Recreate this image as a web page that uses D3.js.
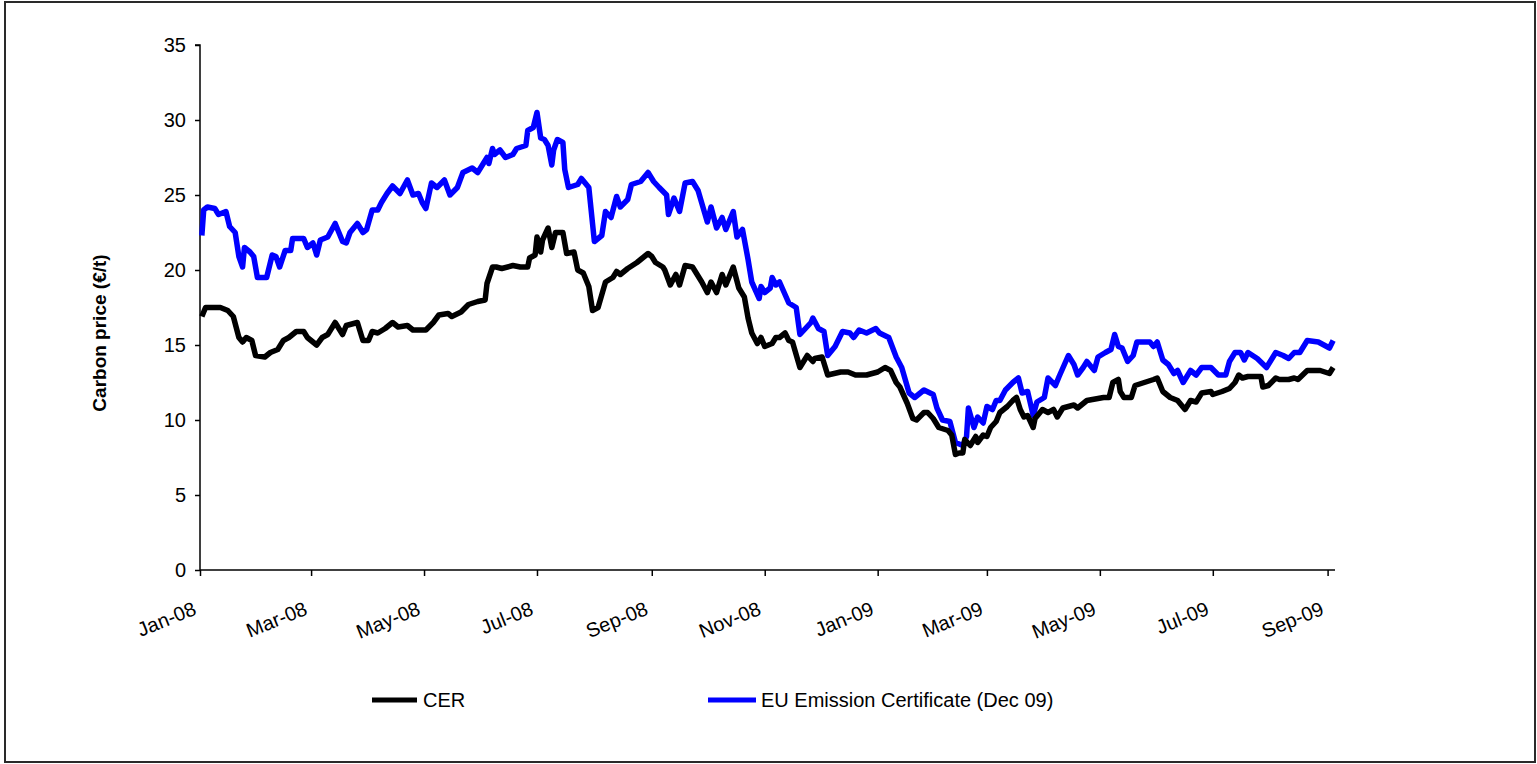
<!DOCTYPE html>
<html>
<head>
<meta charset="utf-8">
<script src="https://cdn.jsdelivr.net/npm/d3@7"></script>
<style>
  body { margin: 0; background: #ffffff; }
  svg { display: block; font-family: "Liberation Sans", Arial, sans-serif; }
</style>
</head>
<body>
<svg id="chart" width="1537" height="764"></svg>
<script>
// ---------------- DATA ----------------
const seriesNames = ["CER", "EU Emission Certificate (Dec 09)"];
const yTickValues = [0, 5, 10, 15, 20, 25, 30, 35];
const xTickLabels = ["Jan-08","Mar-08","May-08","Jul-08","Sep-08","Nov-08","Jan-09","Mar-09","May-09","Jul-09","Sep-09"];

const cerDates = [
"2008-01-02","2008-01-04","2008-01-08","2008-01-12","2008-01-16","2008-01-19","2008-01-22","2008-01-24","2008-01-26","2008-01-29",
"2008-01-31","2008-02-05","2008-02-08","2008-02-12","2008-02-15","2008-02-18","2008-02-22","2008-02-26","2008-02-28","2008-03-04",
"2008-03-07","2008-03-10","2008-03-14","2008-03-16","2008-03-18","2008-03-20","2008-03-26","2008-03-29","2008-04-01","2008-04-03",
"2008-04-06","2008-04-10","2008-04-14","2008-04-17","2008-04-22","2008-04-25","2008-05-02","2008-05-06","2008-05-09","2008-05-14",
"2008-05-16","2008-05-21","2008-05-25","2008-05-30","2008-06-03","2008-06-04","2008-06-07","2008-06-09","2008-06-12","2008-06-18",
"2008-06-22","2008-06-26","2008-06-27","2008-06-30","2008-07-01","2008-07-03","2008-07-04","2008-07-07","2008-07-09","2008-07-11",
"2008-07-15","2008-07-17","2008-07-21","2008-07-23","2008-07-26","2008-07-29","2008-07-31","2008-08-03","2008-08-07","2008-08-11",
"2008-08-13","2008-08-15","2008-08-19","2008-08-24","2008-08-27","2008-08-30","2008-09-01","2008-09-03","2008-09-07","2008-09-08",
"2008-09-11","2008-09-14","2008-09-16","2008-09-19","2008-09-23","2008-09-28","2008-10-01","2008-10-03","2008-10-06","2008-10-09",
"2008-10-11","2008-10-15","2008-10-18","2008-10-21","2008-10-23","2008-10-25","2008-10-28","2008-10-30","2008-11-01","2008-11-05",
"2008-11-07","2008-11-09","2008-11-12","2008-11-14","2008-11-16","2008-11-20","2008-11-24","2008-11-27","2008-11-28","2008-12-02",
"2008-12-05","2008-12-12","2008-12-16","2008-12-20","2008-12-26","2009-01-01","2009-01-05","2009-01-08","2009-01-11","2009-01-13",
"2009-01-17","2009-01-20","2009-01-22","2009-01-26","2009-01-28","2009-01-31","2009-02-03","2009-02-08","2009-02-10","2009-02-12",
"2009-02-14","2009-02-16","2009-02-17","2009-02-20","2009-02-23","2009-02-24","2009-02-27","2009-03-01","2009-03-03","2009-03-06",
"2009-03-08","2009-03-12","2009-03-15","2009-03-17","2009-03-19","2009-03-21","2009-03-23","2009-03-26","2009-03-27","2009-03-31",
"2009-04-03","2009-04-06","2009-04-08","2009-04-11","2009-04-17","2009-04-19","2009-04-24","2009-05-03","2009-05-06","2009-05-08",
"2009-05-11","2009-05-12","2009-05-14","2009-05-18","2009-05-20","2009-05-25","2009-05-30","2009-06-01","2009-06-04","2009-06-05",
"2009-06-08","2009-06-12","2009-06-16","2009-06-19","2009-06-22","2009-06-25","2009-06-30","2009-07-01","2009-07-06","2009-07-10",
"2009-07-13","2009-07-15","2009-07-17","2009-07-20","2009-07-27","2009-07-28","2009-07-31","2009-08-04","2009-08-06","2009-08-11",
"2009-08-14","2009-08-16","2009-08-21","2009-08-28","2009-09-02","2009-09-04"];
const cerValues = [
16.9,17.5,17.5,17.5,17.3,16.9,15.5,15.2,15.5,15.3,
14.3,14.2,14.5,14.7,15.3,15.5,15.9,15.9,15.5,15.0,
15.5,15.7,16.5,16.1,15.7,16.3,16.5,15.3,15.3,15.9,
15.8,16.1,16.5,16.2,16.3,16.0,16.0,16.5,17.0,17.1,
16.9,17.2,17.7,17.9,18.0,19.1,20.2,20.2,20.1,20.3,
20.2,20.2,20.8,21.0,22.2,21.2,22.0,22.8,21.5,22.5,
22.5,21.1,21.2,20.0,19.8,18.9,17.3,17.5,19.2,19.5,
19.9,19.7,20.1,20.5,20.8,21.1,20.9,20.5,20.2,20.0,
19.0,19.7,19.0,20.3,20.2,19.2,18.5,19.2,18.5,19.7,
19.0,20.2,18.8,18.2,16.8,15.8,15.1,15.5,14.9,15.1,
15.5,15.5,15.8,15.3,15.2,13.5,14.3,13.9,14.1,14.2,
13.0,13.2,13.2,13.0,13.0,13.2,13.5,13.3,12.5,12.2,
11.1,10.1,10.0,10.5,10.5,10.1,9.5,9.3,9.0,7.7,
7.8,7.8,8.7,8.3,8.9,8.5,9.0,8.9,9.5,9.9,
10.5,10.9,11.3,11.5,10.7,10.2,10.3,9.5,10.1,10.7,
10.5,10.7,10.2,10.8,11.0,10.8,11.3,11.5,11.5,12.5,
12.7,11.9,11.5,11.5,12.3,12.5,12.7,12.8,11.9,11.8,
11.5,11.3,10.7,11.3,11.2,11.8,11.9,11.7,11.9,12.1,
12.5,13.0,12.8,12.9,12.9,12.2,12.3,12.8,12.7,12.7,
12.8,12.7,13.3,13.3,13.1,13.5];

const euaDates = [
"2008-01-02","2008-01-03","2008-01-05","2008-01-09","2008-01-11","2008-01-15","2008-01-17","2008-01-20","2008-01-22","2008-01-24",
"2008-01-25","2008-01-28","2008-01-30","2008-02-01","2008-02-06","2008-02-09","2008-02-11","2008-02-13","2008-02-16","2008-02-19",
"2008-02-20","2008-02-26","2008-02-28","2008-03-02","2008-03-04","2008-03-06","2008-03-10","2008-03-14","2008-03-18","2008-03-20",
"2008-03-22","2008-03-26","2008-03-29","2008-03-31","2008-04-03","2008-04-06","2008-04-08","2008-04-11","2008-04-14","2008-04-18",
"2008-04-22","2008-04-25","2008-04-28","2008-04-30","2008-05-02","2008-05-05","2008-05-08","2008-05-12","2008-05-15","2008-05-19",
"2008-05-22","2008-05-27","2008-05-30","2008-06-04","2008-06-05","2008-06-07","2008-06-08","2008-06-11","2008-06-14","2008-06-18",
"2008-06-20","2008-06-25","2008-06-26","2008-06-29","2008-07-01","2008-07-03","2008-07-05","2008-07-07","2008-07-09","2008-07-10",
"2008-07-12","2008-07-15","2008-07-16","2008-07-18","2008-07-23","2008-07-25","2008-07-29","2008-08-01","2008-08-05","2008-08-07",
"2008-08-10","2008-08-13","2008-08-15","2008-08-19","2008-08-21","2008-08-26","2008-08-30","2008-09-02","2008-09-05","2008-09-09",
"2008-09-10","2008-09-13","2008-09-16","2008-09-19","2008-09-23","2008-09-26","2008-10-01","2008-10-03","2008-10-06","2008-10-09",
"2008-10-11","2008-10-15","2008-10-17","2008-10-20","2008-10-23","2008-10-25","2008-10-29","2008-10-30","2008-11-01","2008-11-04",
"2008-11-05","2008-11-07","2008-11-09","2008-11-14","2008-11-18","2008-11-20","2008-11-23","2008-11-26","2008-11-27","2008-11-30",
"2008-12-03","2008-12-05","2008-12-09","2008-12-13","2008-12-17","2008-12-19","2008-12-22","2008-12-26","2008-12-31","2009-01-02",
"2009-01-07","2009-01-11","2009-01-14","2009-01-18","2009-01-21","2009-01-26","2009-01-31","2009-02-02","2009-02-05","2009-02-09",
"2009-02-12","2009-02-16","2009-02-18","2009-02-19","2009-02-22","2009-02-24","2009-02-27","2009-03-01","2009-03-04","2009-03-06",
"2009-03-08","2009-03-11","2009-03-15","2009-03-18","2009-03-20","2009-03-23","2009-03-26","2009-03-28","2009-04-01","2009-04-03",
"2009-04-07","2009-04-09","2009-04-14","2009-04-17","2009-04-19","2009-04-22","2009-04-24","2009-04-28","2009-04-30","2009-05-04",
"2009-05-07","2009-05-09","2009-05-11","2009-05-13","2009-05-16","2009-05-19","2009-05-21","2009-05-28","2009-05-30","2009-06-01",
"2009-06-04","2009-06-07","2009-06-10","2009-06-12","2009-06-15","2009-06-19","2009-06-22","2009-06-25","2009-06-30","2009-07-04",
"2009-07-08","2009-07-10","2009-07-13","2009-07-16","2009-07-18","2009-07-20","2009-07-25","2009-07-30","2009-07-31","2009-08-04",
"2009-08-08","2009-08-11","2009-08-14","2009-08-17","2009-08-21","2009-08-27","2009-09-02","2009-09-04"];
const euaValues = [
22.3,24.0,24.2,24.1,23.7,23.9,22.9,22.5,20.9,20.2,
21.5,21.2,20.9,19.5,19.5,21.0,20.9,20.2,21.3,21.3,
22.1,22.1,21.5,21.8,21.0,22.0,22.2,23.1,21.9,21.8,
22.5,23.1,22.5,22.7,24.0,24.0,24.5,25.1,25.6,25.1,
26.0,25.0,25.1,24.5,24.1,25.8,25.5,26.0,25.0,25.5,
26.5,26.8,26.5,27.5,27.1,28.1,27.7,28.0,27.5,27.7,
28.1,28.3,29.3,29.5,30.5,28.8,28.7,28.3,27.0,28.0,
28.7,28.5,26.7,25.5,25.7,26.1,25.5,21.9,22.3,23.9,
23.5,24.9,24.2,24.7,25.7,25.9,26.5,25.9,25.5,25.0,
23.7,24.8,23.9,25.8,25.9,25.3,23.2,24.2,22.8,23.5,
22.7,23.9,22.2,22.7,20.7,19.2,18.1,18.9,18.5,18.8,
19.5,19.0,19.2,17.8,17.5,15.7,16.1,16.5,16.8,16.1,
15.9,14.3,14.9,15.9,15.8,15.5,16.0,15.8,16.1,15.8,
15.5,14.2,13.5,11.8,11.5,12.0,11.7,10.8,10.0,9.9,
8.5,8.3,8.9,10.8,9.5,10.2,9.8,10.9,10.7,11.3,
11.3,12.0,12.5,12.8,11.8,11.9,10.3,11.2,11.5,12.8,
12.3,12.9,14.3,13.7,13.0,13.5,13.9,13.3,14.2,14.5,
14.7,15.7,14.9,14.8,13.9,14.3,15.2,15.2,14.9,15.2,
14.0,13.7,13.1,13.3,12.5,13.3,13.0,13.5,13.5,13.0,
13.0,13.9,14.5,14.5,14.0,14.5,14.1,13.5,13.7,14.5,
14.3,14.1,14.5,14.5,15.3,15.2,14.8,15.3];

const seriesColors = ["#000000", "#0000ff"];
const xDomain = ["2008-01-01", "2009-09-05"];

// ---------------- DRAW ----------------
const parse = d3.timeParse("%Y-%m-%d");
const svg = d3.select("#chart");

svg.append("rect")
  .attr("x", 5).attr("y", 2).attr("width", 1530).attr("height", 760)
  .attr("fill", "#ffffff").attr("stroke", "#2a2a2a").attr("stroke-width", 2);

const plot = { left: 200, right: 1335, top: 45, bottom: 570 };

const x = d3.scaleTime().domain(xDomain.map(parse)).range([plot.left, plot.right]);
const y = d3.scaleLinear().domain([0, 35]).range([plot.bottom, plot.top]);

// Y axis
const yAxis = d3.axisLeft(y).tickValues(yTickValues).tickSize(5).tickPadding(9).tickFormat(d3.format("d"));
const gy = svg.append("g").attr("transform", `translate(${plot.left},0)`).call(yAxis);
gy.select(".domain").attr("stroke", "#000").attr("stroke-width", 1.5).attr("d", `M-5,${plot.top}H0V${plot.bottom}`);
gy.selectAll(".tick line").attr("stroke", "#000").attr("stroke-width", 1.5);
gy.selectAll(".tick text").attr("font-size", 20).attr("font-family", "Liberation Sans, Arial, sans-serif").attr("fill", "#000");

// X axis
const xTicks = xTickLabels.map(s => d3.timeParse("%b-%y")(s));
const xAxis = d3.axisBottom(x).tickValues(xTicks).tickSize(6).tickFormat((d, i) => xTickLabels[i]);
const gx = svg.append("g").attr("transform", `translate(0,${plot.bottom})`).call(xAxis);
gx.select(".domain").attr("stroke", "#000").attr("stroke-width", 1.5).attr("d", `M${plot.left},0H${plot.right}`);
gx.selectAll(".tick line").attr("stroke", "#000").attr("stroke-width", 1.5);
gx.selectAll(".tick text")
  .attr("font-size", 20).attr("font-family", "Liberation Sans, Arial, sans-serif").attr("fill", "#000")
  .attr("text-anchor", "end")
  .attr("dy", 0).attr("y", 0)
  .attr("transform", "translate(-3,44) rotate(-22)");

// Y axis title
svg.append("text")
  .attr("transform", `translate(106,333) rotate(-90)`)
  .attr("text-anchor", "middle")
  .attr("font-size", 19).attr("font-weight", "bold")
  .attr("fill", "#000")
  .text("Carbon price (€/t)");

// Lines
const seriesData = [
  cerDates.map((d, i) => ({ date: parse(d), value: cerValues[i] })),
  euaDates.map((d, i) => ({ date: parse(d), value: euaValues[i] }))
];
const line = d3.line().x(d => x(d.date)).y(d => y(d.value));

// draw blue first, then black
[1, 0].forEach(k => {
  svg.append("path")
    .datum(seriesData[k])
    .attr("fill", "none")
    .attr("stroke", seriesColors[k])
    .attr("stroke-width", 5.5)
    .attr("stroke-linejoin", "round")
    .attr("stroke-linecap", "butt")
    .attr("d", line);
});

// Legend
const legendItems = [
  { x1: 372, x2: 417, tx: 423 },
  { x1: 708, x2: 756, tx: 761 }
];
legendItems.forEach((L, i) => {
  svg.append("line")
    .attr("x1", L.x1).attr("x2", L.x2).attr("y1", 700).attr("y2", 700)
    .attr("stroke", seriesColors[i]).attr("stroke-width", 5);
  svg.append("text")
    .attr("x", L.tx).attr("y", 707)
    .attr("font-size", 20)
    .attr("fill", "#000")
    .text(seriesNames[i]);
});
</script>
</body>
</html>
